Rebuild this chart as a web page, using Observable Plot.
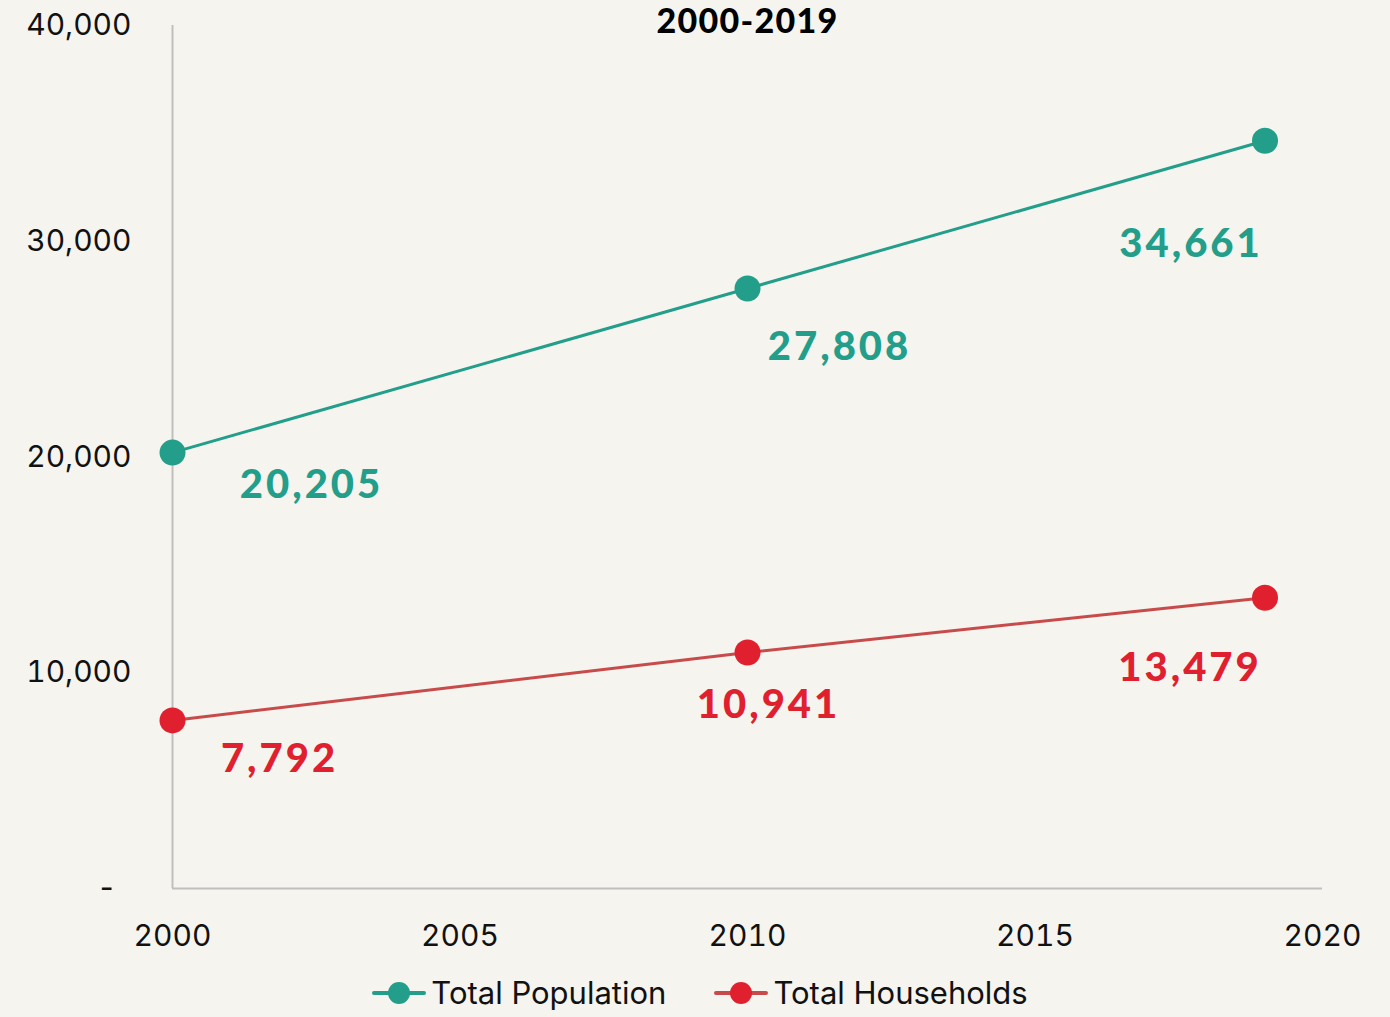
<!DOCTYPE html>
<html><head><meta charset="utf-8">
<script src="https://cdn.jsdelivr.net/npm/d3@7"></script>
<script src="https://cdn.jsdelivr.net/npm/@observablehq/plot@0.6"></script>
<style>
html,body{margin:0;padding:0;background:#f5f4ee;}
#chart{width:1390px;height:1017px;background:#f5f4ee;overflow:hidden;}
.legend{display:flex;justify-content:center;align-items:center;gap:48px;height:44px;margin-top:6px;font-family:Inter,sans-serif;font-size:31px;line-height:40px;color:#111;padding-left:10px;}
.legend .item{display:flex;align-items:center;gap:5px;}
.legend svg{display:block}
</style>
</head><body>
<div id="chart"></div>
<script>
// ---- data ----
const years = [2000, 2010, 2019];
const population = [20205, 27808, 34661];
const households = [7792, 10941, 13479];
const seriesNames = ["Total Population", "Total Households"];
const yTicks = [0, 10000, 20000, 30000, 40000];
const xTicks = [2000, 2005, 2010, 2015, 2020];
const titleText = "2000-2019";

// ---- styles ----
const teal = "#229e8a";
const redLine = "#c84b4b";
const redDot = "#e0202f";
const popOffsets = [[139, 33], [92, 59], [-74, 103]];
const hhOffsets = [[107, 39], [21, 53], [-75, 70]];

const popData = years.map((y, i) => ({year: y, value: population[i]}));
const hhData = years.map((y, i) => ({year: y, value: households[i]}));
const fmt = d3.format(",");

function labels(data, offsets, color) {
  return data.map((d, i) => Plot.text([d], {
    x: "year", y: "value", text: d => fmt(d.value),
    dx: offsets[i][0], dy: offsets[i][1],
    fill: color, fontSize: 40, fontWeight: 900, fontFamily: "Lato, sans-serif",
    textAnchor: "middle", lineAnchor: "middle"
  }));
}

const plot = Plot.plot({
  width: 1390,
  height: 965,
  marginLeft: 172,
  marginRight: 68,
  marginTop: 25,
  marginBottom: 77,
  style: {background: "transparent", fontFamily: "Inter, sans-serif", fontSize: "30px", color: "#111", overflow: "visible"},
  x: {domain: [2000, 2020]},
  y: {domain: [0, 40000]},
  marks: [
    Plot.axisY({ticks: yTicks, tickFormat: d => d === 0 ? "-\u2002" : fmt(d), tickSize: 0, tickPadding: 41, label: null, fontSize: 30}),
    Plot.axisX({ticks: xTicks, tickFormat: d => String(d), tickSize: 0, tickPadding: 36, label: null, fontSize: 30}),
    Plot.ruleX([2000], {y1: 0, y2: 40000, stroke: "#bfbfbf", strokeWidth: 2}),
    Plot.ruleY([0], {x1: 2000, x2: 2020, stroke: "#bfbfbf", strokeWidth: 2}),
    Plot.line(popData, {x: "year", y: "value", stroke: teal, strokeWidth: 3}),
    Plot.line(hhData, {x: "year", y: "value", stroke: redLine, strokeWidth: 3}),
    Plot.dot(popData, {x: "year", y: "value", r: 13, fill: teal}),
    Plot.dot(hhData, {x: "year", y: "value", r: 13, fill: redDot}),
    ...labels(popData, popOffsets, teal),
    ...labels(hhData, hhOffsets, redDot),
    Plot.text([titleText], {frameAnchor: "top", dy: -3, lineAnchor: "middle", fontSize: 34, fontWeight: 900, fontFamily: "Lato, sans-serif", fill: "#000"})
  ]
});
d3.select(plot).selectAll("g[font-size='40']").attr("letter-spacing", "3px");
d3.select(plot).selectAll("g[font-size='34']").attr("letter-spacing", "1.3px");
document.getElementById("chart").appendChild(plot);

// legend
const legend = document.createElement("div");
legend.className = "legend";
const legendColors = [[teal, teal], [redLine, redDot]];
seriesNames.forEach((name, i) => {
  const item = document.createElement("div");
  item.className = "item";
  item.innerHTML = `<svg width="54" height="30"><line x1="2" x2="52" y1="15" y2="15" stroke="${legendColors[i][0]}" stroke-width="4" stroke-linecap="round"/><circle cx="27" cy="15" r="11" fill="${legendColors[i][1]}"/></svg><span>${name}</span>`;
  legend.appendChild(item);
});
document.getElementById("chart").appendChild(legend);
</script>
</body></html>
